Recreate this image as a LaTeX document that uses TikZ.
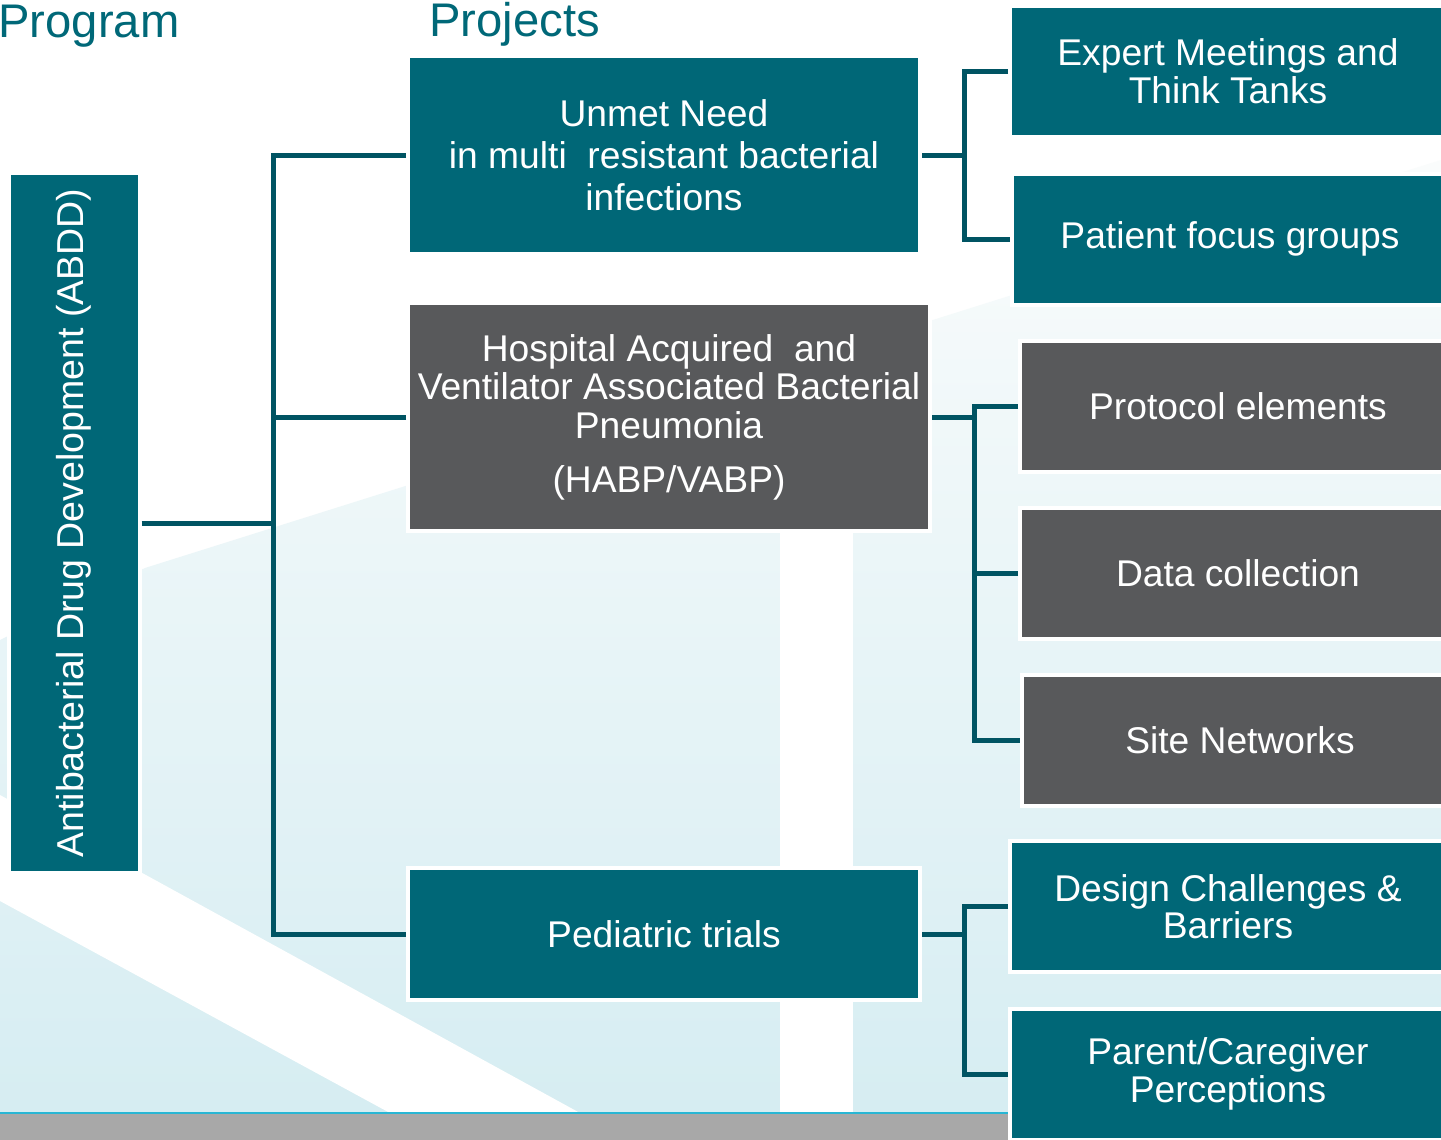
\documentclass[tikz,border=0pt]{standalone}
\usepackage{fontspec}
\setmainfont{Liberation Sans}
\definecolor{abddteal}{RGB}{0,103,119}
\definecolor{abddgray}{RGB}{88,89,91}
\definecolor{linkteal}{RGB}{0,84,99}
\definecolor{headteal}{RGB}{0,104,120}
\definecolor{bgpale}{RGB}{214,237,242}
\definecolor{bglight}{RGB}{250,252,252}
\definecolor{barcyan}{RGB}{40,182,212}
\definecolor{bargray}{RGB}{168,168,168}

\begin{document}
\begin{tikzpicture}[x=0.5pt,y=-0.5pt,
    box/.style={fill=abddteal,draw=white,line width=2pt,text=white,align=center,
      inner sep=0pt,font=\fontsize{18.6}{18.8}\selectfont},
    darkbox/.style={box,fill=abddgray},
    sidebox/.style={minimum width=218pt,minimum height=65.5pt},
    link/.style={draw=linkteal,line width=2.5pt},
    head/.style={anchor=base west,inner sep=0pt,text=headteal,font=\fontsize{23.6}{27}\selectfont}]
    \useasboundingbox (0,0) rectangle (1441,1140);
    % background
    \fill[white] (0,0) rectangle (1441,1140);
    \shade[top color=bglight,bottom color=bgpale] (0,640) -- (145,568) -- (1441,160) -- (1441,1113) -- (0,1113) -- cycle;
    \fill[white] (0,795) -- (580,1113) -- (390,1113) -- (0,901) -- cycle;
    \fill[white] (780,0) rectangle (853,1113);
    \fill[bargray] (0,1114) rectangle (1441,1140);
    \draw[barcyan,line width=1.2pt] (0,1113) -- (1441,1113);
    % headings
    \node[head] (program) at (-2,38) {Program};
    \node[head] (projects) at (429,36) {Projects};
    % program
    \node[box,minimum width=65.5pt,minimum height=350pt,font=\fontsize{18.75}{20}\selectfont] (abdd) at (74,523)
        {\rotatebox{90}{Antibacterial Drug Development (ABDD)}};
    % projects
    \node[box,minimum width=256pt,minimum height=99pt,font=\fontsize{18.6}{21}\selectfont] (unmet) at (664,155)
        {Unmet Need\\in multi\ \ resistant bacterial\\infections};
    \node[darkbox,minimum width=261pt,minimum height=114pt,font=\fontsize{18.6}{19.3}\selectfont] (habp) at (669,417)
        {Hospital Acquired\ \ and\\Ventilator Associated Bacterial\\Pneumonia\\[7.5pt](HABP/VABP)};
    \node[box,minimum width=256pt,minimum height=66pt] (pedi) at (664,934) {Pediatric trials};
    % activities
    \node[box,sidebox] (expert) at (1228,71.5) {Expert Meetings and\\Think Tanks};
    \node[box,sidebox] (patient) at (1230,239) {Patient focus groups};
    \node[darkbox,sidebox] (protocol) at (1238,406) {Protocol elements};
    \node[darkbox,sidebox] (data) at (1238,573) {Data collection};
    \node[darkbox,sidebox] (site) at (1240,740) {Site Networks};
    \node[box,sidebox] (design) at (1228,906.5) {Design Challenges \&\\Barriers};
    \node[box,sidebox] (parent) at (1228,1074) {Parent/Caregiver\\Perceptions};
    % connectors
    \coordinate (trunk) at (273,0);
    \coordinate (forka) at (964,0);
    \coordinate (forkb) at (974,0);
    \coordinate (forkc) at (964,0);
    \draw[link] (abdd.east) -- (abdd.east -| trunk);
    \draw[link] (unmet.west) -- (unmet.west -| trunk) |- (pedi.west);
    \draw[link] (habp.west) -- (habp.west -| trunk);
    \draw[link] (unmet.east) -- (unmet.east -| forka);
    \draw[link] (expert.west) -- (expert.west -| forka) |- (patient.west);
    \draw[link] (habp.east) -- (habp.east -| forkb);
    \draw[link] (protocol.west) -- (protocol.west -| forkb) |- (site.west);
    \draw[link] (data.west) -- (data.west -| forkb);
    \draw[link] (pedi.east) -- (pedi.east -| forkc);
    \draw[link] (design.west) -- (design.west -| forkc) |- (parent.west);
\end{tikzpicture}
\end{document}
